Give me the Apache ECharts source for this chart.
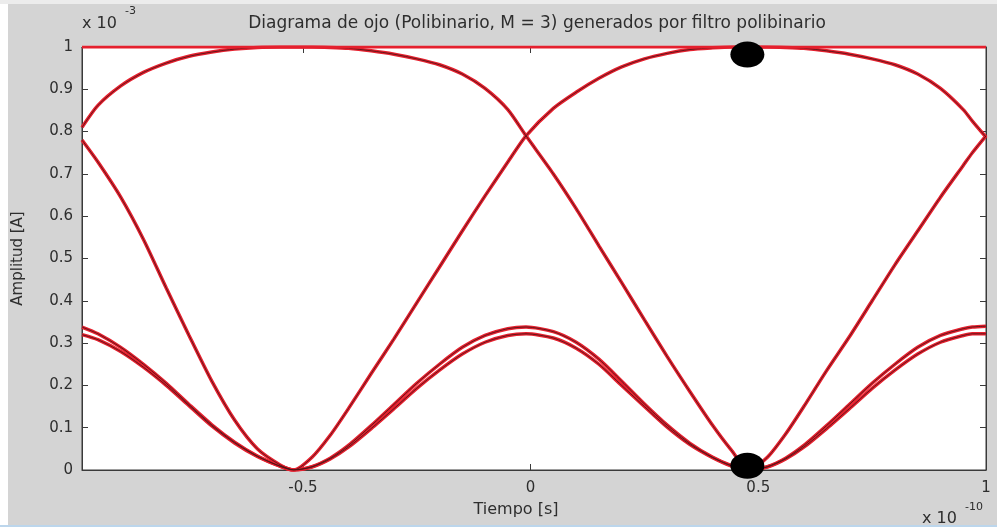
<!DOCTYPE html>
<html><head><meta charset="utf-8">
<script src="https://cdn.jsdelivr.net/npm/echarts@6/dist/echarts.min.js"></script>
<style>html,body{margin:0;padding:0;background:#fff}#c{width:997px;height:529px}</style>
</head><body><div id="c"></div>
<script>
// ---- data (x in units of 1e-10 s, y in units of 1e-3 A) ----
const titleText = 'Diagrama de ojo (Polibinario, M = 3) generados por filtro polibinario';
const xTicks = [-0.5, 0, 0.5, 1];

const xLeft = [-0.985, -0.95, -0.9, -0.85, -0.8, -0.75, -0.7, -0.65, -0.6, -0.55, -0.52];
const riseLeft  = [0.81, 0.862, 0.908, 0.94, 0.962, 0.978, 0.988, 0.995, 0.999, 1.0, 1.0];
const fallLeft  = [0.78, 0.728, 0.645, 0.545, 0.43, 0.318, 0.21, 0.118, 0.05, 0.012, 0];
const bumpLeft  = [0.338, 0.322, 0.29, 0.25, 0.205, 0.155, 0.107, 0.066, 0.033, 0.009, 0];
const bumpLeft2 = [0.32, 0.308, 0.28, 0.243, 0.2, 0.152, 0.104, 0.064, 0.032, 0.009, 0];

const xMid = [-0.52, -0.48, -0.44, -0.4, -0.35, -0.3, -0.25, -0.2, -0.15, -0.1, -0.05, -0.01,
              0.05, 0.1, 0.15, 0.2, 0.25, 0.3, 0.35, 0.4, 0.44, 0.48];
const riseMid  = [0, 0.03, 0.082, 0.145, 0.228, 0.31, 0.395, 0.48, 0.565, 0.648, 0.728, 0.79,
                  0.855, 0.893, 0.926, 0.953, 0.972, 0.985, 0.994, 0.998, 1.0, 1.0];
const fallMid  = [1.0, 1.0, 0.999, 0.997, 0.991, 0.983, 0.972, 0.958, 0.936, 0.902, 0.852, 0.79,
                  0.7, 0.618, 0.53, 0.443, 0.355, 0.268, 0.185, 0.105, 0.048, 0];
const bumpMid  = [0, 0.008, 0.028, 0.058, 0.105, 0.155, 0.205, 0.25, 0.29, 0.318, 0.334, 0.338,
                  0.327, 0.302, 0.262, 0.21, 0.156, 0.106, 0.063, 0.03, 0.011, 0];
const bumpMid2 = [0, 0.007, 0.026, 0.054, 0.098, 0.145, 0.193, 0.236, 0.274, 0.302, 0.318, 0.322,
                  0.312, 0.288, 0.25, 0.2, 0.15, 0.101, 0.06, 0.029, 0.01, 0];

const xRight = [0.48, 0.52, 0.56, 0.6, 0.65, 0.7, 0.75, 0.8, 0.85, 0.9, 0.95, 0.97, 1.0];
const riseRight  = [0, 0.03, 0.085, 0.15, 0.235, 0.315, 0.4, 0.485, 0.565, 0.645, 0.72, 0.75, 0.79];
const fallRight  = [1.0, 1.0, 0.999, 0.997, 0.991, 0.983, 0.972, 0.958, 0.936, 0.902, 0.852, 0.825, 0.787];
const bumpRight  = [0, 0.008, 0.028, 0.058, 0.105, 0.155, 0.205, 0.25, 0.29, 0.318, 0.334, 0.338, 0.34];
const bumpRight2 = [0, 0.007, 0.026, 0.054, 0.098, 0.145, 0.193, 0.236, 0.274, 0.302, 0.318, 0.322, 0.322];

const topLineX = [-0.985, 1.0];
const topLineY = [1.0, 1.0];

const markerX = [0.476, 0.476];
const markerY = [0.982, 0.01];

// ---- build ----
function pairs(xs, ys) { return xs.map((x, i) => [x, ys[i]]); }
function joinSeg(segs) {
  let out = [];
  segs.forEach((s, k) => { const p = pairs(s[0], s[1]); out = out.concat(k === 0 ? p : p.slice(1)); });
  return out;
}
const traces = [
  joinSeg([[xLeft, riseLeft], [xMid, fallMid], [xRight, riseRight]]),
  joinSeg([[xLeft, fallLeft], [xMid, riseMid], [xRight, fallRight]]),
  joinSeg([[xLeft, bumpLeft], [xMid, bumpMid], [xRight, bumpRight]]),
  joinSeg([[xLeft, bumpLeft2], [xMid, bumpMid2], [xRight, bumpRight2]])
];

const RED = '#e5202e';
const DARK = '#4a1518';
const series = [];
traces.forEach((d, i) => {
  series.push({ type: 'line', data: d, showSymbol: false, smooth: 0.25, silent: true,
    lineStyle: { color: RED, width: 3.5 }, z: 2 });
  series.push({ type: 'line', data: d, showSymbol: false, smooth: 0.25, silent: true,
    lineStyle: { color: DARK, width: 1, opacity: 0.85 }, z: 3 });
});
series.push({ type: 'line', data: pairs(topLineX, topLineY), showSymbol: false, silent: true,
  lineStyle: { color: RED, width: 3 }, z: 4 });
series.push({ type: 'scatter', data: pairs(markerX, markerY), symbol: 'circle', symbolSize: [34, 26],
  itemStyle: { color: '#000', opacity: 1 }, z: 6, silent: true });

const FONT = 'DejaVu Sans';
const TXT = '#2e2e2e';
const fmt = v => String(+(+v).toFixed(2));

const chart = echarts.init(document.getElementById('c'), null, { renderer: 'canvas' });
chart.setOption({
  animation: false,
  backgroundColor: '#d4d4d4',
  title: { text: titleText, left: 532, top: 10, textAlign: 'center',
    textStyle: { fontFamily: FONT, fontSize: 17, fontWeight: 'normal', color: TXT } },
  grid: { left: 82, right: 11, top: 47, bottom: 59, show: true, backgroundColor: '#ffffff',
    borderColor: '#3a3a3a', borderWidth: 1 },
  xAxis: [
    { type: 'value', min: -0.985, max: 1, position: 'bottom',
      axisLine: { onZero: false, lineStyle: { color: '#3a3a3a' } },
      axisTick: { inside: true, length: 6, customValues: xTicks, lineStyle: { color: '#3a3a3a' } },
      axisLabel: { customValues: xTicks, formatter: fmt, fontFamily: FONT, fontSize: 15, color: TXT, margin: 11 },
      splitLine: { show: false } },
    { type: 'value', min: -0.985, max: 1, position: 'top',
      axisLine: { onZero: false, lineStyle: { color: '#3a3a3a' } },
      axisTick: { inside: true, length: 6, customValues: xTicks, lineStyle: { color: '#3a3a3a' } },
      axisLabel: { show: false }, splitLine: { show: false } }
  ],
  yAxis: [
    { type: 'value', min: 0, max: 1, interval: 0.1, position: 'left',
      name: 'Amplitud [A]', nameLocation: 'middle', nameGap: 56, nameRotate: 90,
      nameTextStyle: { fontFamily: FONT, fontSize: 15, color: TXT },
      axisLine: { onZero: false, lineStyle: { color: '#3a3a3a' } },
      axisTick: { inside: true, length: 6, lineStyle: { color: '#3a3a3a' } },
      axisLabel: { formatter: fmt, fontFamily: FONT, fontSize: 15, color: TXT, margin: 9 },
      splitLine: { show: false } },
    { type: 'value', min: 0, max: 1, interval: 0.1, position: 'right',
      axisLine: { onZero: false, lineStyle: { color: '#3a3a3a' } },
      axisTick: { inside: true, length: 6, lineStyle: { color: '#3a3a3a' } },
      axisLabel: { show: false }, splitLine: { show: false } }
  ],
  graphic: [
    { type: 'rect', left: 0, top: 0, shape: { width: 8, height: 529 }, style: { fill: '#ffffff' }, silent: true },
    { type: 'rect', left: 0, top: 0, shape: { width: 997, height: 4 }, style: { fill: '#ececec' }, silent: true },
    { type: 'rect', left: 0, top: 525, shape: { width: 997, height: 2 }, style: { fill: '#bcd6ec' }, silent: true },
    { type: 'rect', left: 0, top: 527, shape: { width: 997, height: 2 }, style: { fill: '#ffffff' }, silent: true },
    { type: 'text', x: 82, y: 16, style: { text: 'x 10', font: '16px "DejaVu Sans"', fill: TXT } },
    { type: 'text', x: 125, y: 6, style: { text: '-3', font: '11px "DejaVu Sans"', fill: TXT } },
    { type: 'text', x: 516, y: 502, style: { text: 'Tiempo [s]', font: '16px "DejaVu Sans"', fill: TXT, align: 'center' } },
    { type: 'text', x: 922, y: 511, style: { text: 'x 10', font: '16px "DejaVu Sans"', fill: TXT } },
    { type: 'text', x: 965, y: 502, style: { text: '-10', font: '11px "DejaVu Sans"', fill: TXT } }
  ],
  series: series
});
</script>
</body></html>
